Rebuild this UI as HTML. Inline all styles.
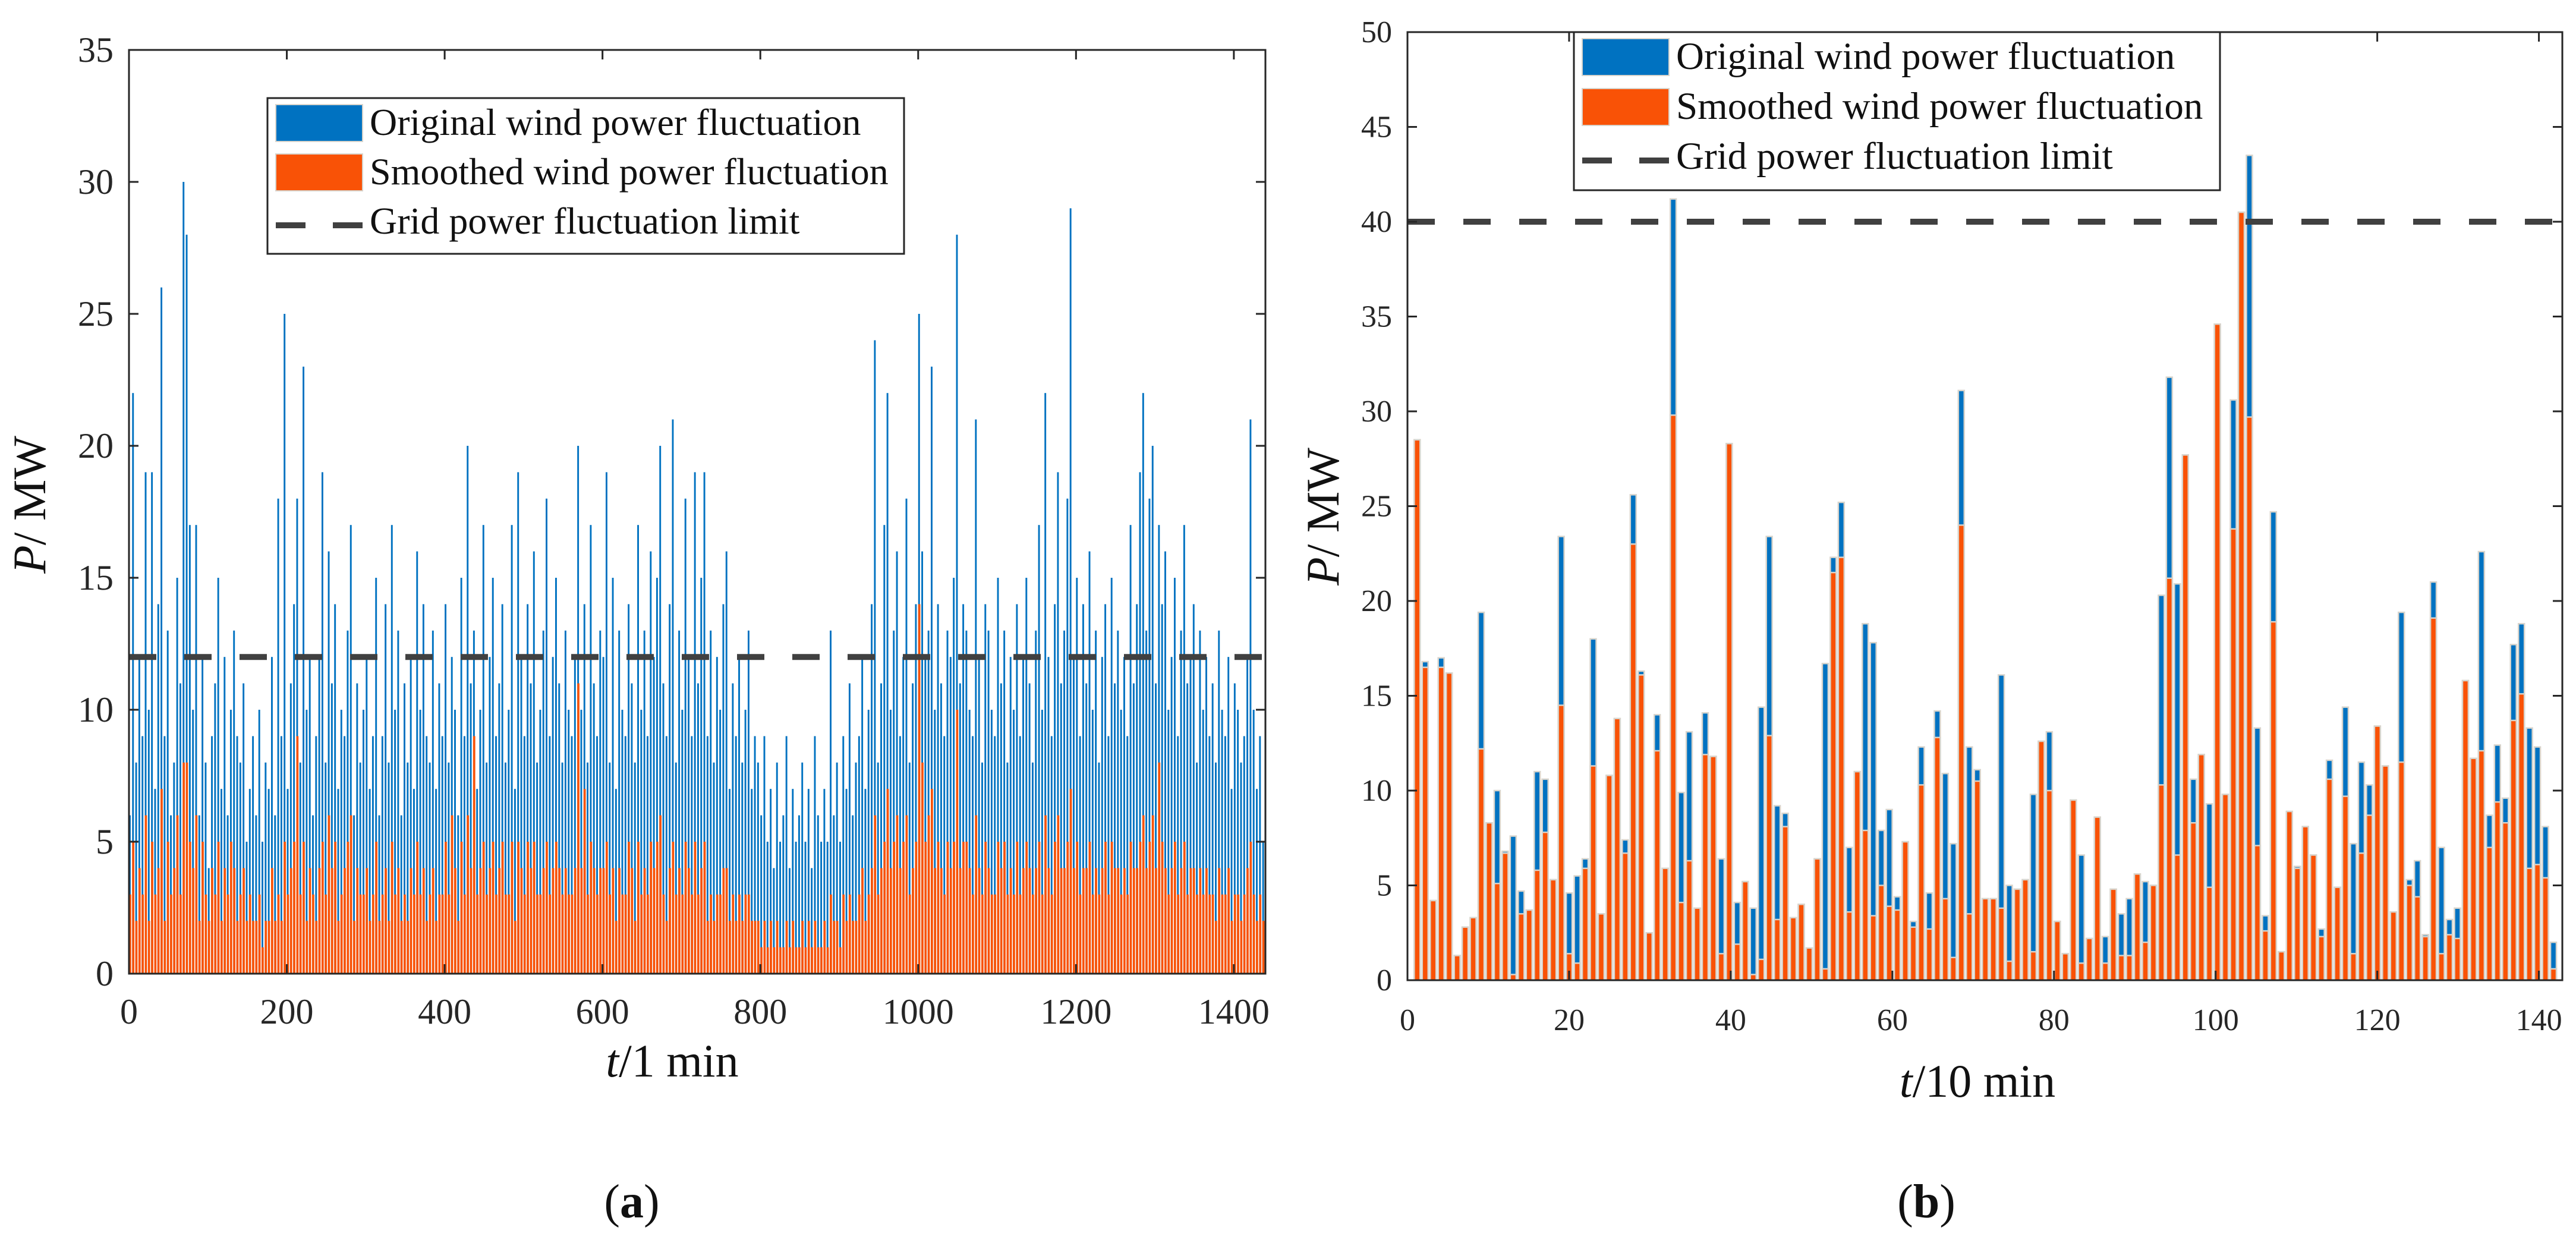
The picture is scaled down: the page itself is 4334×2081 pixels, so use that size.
<!DOCTYPE html>
<html><head><meta charset="utf-8"><style>
html,body{margin:0;padding:0;background:#fff;}
svg{display:block;font-family:"Liberation Serif",serif;}
</style></head><body>
<svg id="fig" width="4334" height="2081" viewBox="0 0 4334 2081" xmlns="http://www.w3.org/2000/svg">
<g id="chartA"></g>
<g id="chartB"></g>
</svg>
<script>
// ---------- Chart (a) data: 4-minute resolution, minutes 0..1440 ----------
const aOriginal = [
6,22,8,12,9,19,10,19,7,14,26,9,13,6,8,15,11,30,28,17,
10,17,6,12,8,4,9,11,15,7,12,6,10,13,9,8,11,5,7,9,
6,10,5,8,7,12,6,18,9,25,7,11,14,18,8,23,10,12,6,9,
12,19,8,16,11,14,7,10,9,13,17,6,11,8,10,12,7,9,15,6,
9,14,8,17,10,13,6,11,8,12,7,16,10,14,9,8,13,7,11,9,
14,8,12,10,6,15,9,20,11,13,7,10,17,8,12,15,9,11,14,8,
10,17,7,19,12,9,14,11,16,8,10,13,18,9,12,15,11,8,13,10,
9,12,20,10,14,8,17,11,9,13,12,19,8,15,7,13,10,9,14,11,
8,17,10,13,9,16,12,15,20,11,9,14,21,8,13,10,18,12,9,19,
11,15,19,9,13,8,12,10,14,16,7,11,9,12,8,10,13,7,9,8,
6,9,5,7,4,8,5,6,9,4,7,5,6,8,5,7,4,9,6,5,
7,5,13,6,8,5,9,7,11,6,8,9,12,7,10,14,24,8,11,17,
22,10,13,16,9,12,18,8,11,14,25,16,12,13,23,10,14,11,9,13,
12,15,28,11,14,13,10,9,21,12,8,14,13,10,9,15,11,13,8,12,
10,14,9,12,15,11,8,13,17,10,22,12,9,14,19,11,13,18,29,12,
15,9,14,11,16,10,13,8,12,14,9,15,11,13,10,12,9,17,11,14,
19,22,13,18,20,11,17,14,16,10,12,15,9,13,17,11,12,14,8,13,
10,12,9,11,8,13,10,9,12,7,11,10,8,9,12,21,10,7,9,5];
const aSmoothed = [
3,5,2,4,3,6,2,5,3,4,7,2,5,3,4,6,3,8,8,5,
4,6,2,5,3,2,4,3,5,2,4,3,5,4,2,3,4,2,3,2,
2,3,1,2,2,4,2,3,2,5,3,4,5,9,3,5,2,4,3,2,
4,5,3,6,4,5,2,3,4,5,6,2,4,3,3,4,2,3,5,2,
3,4,2,5,3,4,2,3,2,4,3,5,3,4,2,3,4,2,3,3,
5,3,6,4,2,5,3,6,4,9,3,4,5,3,4,5,3,4,5,3,
3,5,2,5,4,3,5,4,5,3,3,4,5,3,4,5,4,3,4,3,
3,4,11,4,7,3,5,4,3,4,4,5,3,4,2,4,3,3,5,4,
2,5,3,4,3,5,4,5,6,3,2,4,5,3,4,3,5,4,3,5,
3,4,5,2,3,2,3,3,4,4,2,3,2,3,2,3,3,2,2,2,
1,2,1,2,1,2,1,1,2,1,2,1,1,2,1,2,1,2,1,1,
2,1,3,2,2,1,3,2,3,2,2,3,4,2,3,4,6,3,4,5,
7,4,5,6,4,5,6,3,4,5,14,8,5,6,7,4,5,4,3,5,
4,5,10,4,5,5,4,3,6,4,3,5,4,3,3,5,4,5,3,4,
3,5,3,4,5,4,3,4,5,3,6,4,3,5,6,4,4,5,7,4,
5,3,4,4,5,3,4,3,4,5,3,5,4,4,3,4,3,5,4,4,
5,6,4,5,6,4,8,5,4,3,4,5,3,4,5,3,4,4,3,4,
3,4,3,3,2,4,3,3,4,2,3,3,2,3,4,5,3,2,3,2];
const aXTicks = [0,200,400,600,800,1000,1200,1400];
const aYTicks = [0,5,10,15,20,25,30,35];
const aLimit = [12];

// ---------- Chart (b) data: 10-minute resolution ----------
const bOriginal = [28.5,16.8,4.2,17,16.2,1.3,2.8,3.3,19.4,8.3,10,6.8,7.6,4.7,3.7,11,10.6,5.3,23.4,4.6,
5.5,6.4,18,3.5,10.8,13.8,7.4,25.6,16.3,2.5,14,5.9,41.2,9.9,13.1,3.8,14.1,11.8,6.4,28.3,
4.1,5.2,3.8,14.4,23.4,9.2,8.8,3.3,4.0,1.7,6.4,16.7,22.3,25.2,7,11,18.8,17.8,7.9,9,
4.4,7.3,3.1,12.3,4.6,14.2,10.9,7.2,31.1,12.3,11.1,4.3,4.3,16.1,5,4.8,5.3,9.8,12.6,13.1,
3.1,1.4,9.5,6.6,2.2,8.6,2.3,4.8,3.5,4.3,5.6,5.2,5,20.3,31.8,20.9,27.7,10.6,11.9,9.3,
34.6,9.8,30.6,40.5,43.5,13.3,3.4,24.7,1.5,8.9,6,8.1,6.6,2.7,11.6,4.9,14.4,7.2,11.5,10.3,
13.4,11.3,3.6,19.4,5.3,6.3,2.4,21,7,3.2,3.8,15.8,11.7,22.6,8.7,12.4,9.6,17.7,18.8,13.3,
12.3,8.1,2];
const bSmoothed = [28.5,16.5,4.2,16.5,16.2,1.3,2.8,3.3,12.2,8.3,5.1,6.7,0.3,3.5,3.7,5.8,7.8,5.3,14.5,1.4,
0.9,5.9,11.3,3.5,10.8,13.8,6.7,23,16.1,2.5,12.1,5.9,29.8,4.1,6.3,3.8,11.9,11.8,1.4,28.3,
1.9,5.2,0.3,1.1,12.9,3.2,8.1,3.3,4.0,1.7,6.4,0.6,21.5,22.3,3.6,11,7.9,3.4,5,3.9,
3.7,7.3,2.8,10.3,2.7,12.8,4.3,1.2,24,3.5,10.5,4.3,4.3,3.8,1,4.8,5.3,1.5,12.6,10,
3.1,1.4,9.5,0.9,2.2,8.6,0.9,4.8,1.3,1.3,5.6,2,5,10.3,21.2,6.6,27.7,8.3,11.9,4.9,
34.6,9.8,23.8,40.5,29.7,7.1,2.6,18.9,1.5,8.9,5.9,8.1,6.6,2.3,10.6,4.9,9.7,1.4,6.7,8.7,
13.4,11.3,3.6,11.5,5,4.4,2.3,19.1,1.4,2.4,2.2,15.8,11.7,12.1,7,9.4,8.3,13.7,15.1,5.9,
6.1,5.4,0.6];
const bXTicks = [0,20,40,60,80,100,120,140];
const bYTicks = [0,5,10,15,20,25,30,35,40,45,50];
const bLimit = [40];

const NS = "http://www.w3.org/2000/svg";
const BLUE = "#0072c1", ORANGE = "#f95206", DARK = "#404040";
function mk(parent, tag, attrs, text) {
  const e = document.createElementNS(NS, tag);
  for (const k in attrs) e.setAttribute(k, attrs[k]);
  if (text !== undefined) e.textContent = text;
  parent.appendChild(e);
  return e;
}

function drawAxes(g, L, R, T, B, xs, ys, xTicks, yTicks, tickFont, prefix) {
  for (const v of xTicks) {
    const x = xs(v);
    const t1 = mk(g, "line", {x1:x, y1:B, x2:x, y2:B-16, stroke:"#262626", "stroke-width":3});
    
    
    const t2 = mk(g, "line", {x1:x, y1:T, x2:x, y2:T+16, stroke:"#262626", "stroke-width":3});
    
    
    const lb = mk(g, "text", {x:x, y:B+84, "text-anchor":"middle", "font-size":tickFont, fill:"#262626"}, String(v));
    
    
  }
  for (const v of yTicks) {
    const y = ys(v);
    const t1 = mk(g, "line", {x1:L, y1:y, x2:L+16, y2:y, stroke:"#262626", "stroke-width":3});
    
    
    const t2 = mk(g, "line", {x1:R, y1:y, x2:R-16, y2:y, stroke:"#262626", "stroke-width":3});
    
    
    const lb = mk(g, "text", {x:L-26, y:y+tickFont*0.33, "text-anchor":"end", "font-size":tickFont, fill:"#262626"}, String(v));
    
    
  }
  const fr = mk(g, "rect", {x:L, y:T, width:R-L, height:B-T, fill:"none", stroke:"#262626", "stroke-width":3});
  
  
}

function drawLegend(g, x, y, w, h, rowGap, font, prefix) {
  const box = mk(g, "rect", {x:x, y:y, width:w, height:h, fill:"#fff", stroke:"#262626", "stroke-width":3});
  
  
  const labels = ["Original wind power fluctuation", "Smoothed wind power fluctuation", "Grid power fluctuation limit"];
  const sx = x + 14, sw = 146, tx = x + 172;
  for (let i = 0; i < 3; i++) {
    const cy = y + 42 + i * rowGap;
    if (i < 2) {
      const sq = mk(g, "rect", {x:sx, y:cy-31, width:sw, height:62, fill: i === 0 ? BLUE : ORANGE, stroke:"#d8d4cc", "stroke-width":2});
      
      
    } else {
      const ln = mk(g, "line", {x1:sx, y1:cy+6, x2:sx+sw, y2:cy+6, stroke:DARK, "stroke-width":10, "stroke-dasharray":"50 46"});
      
      
    }
    const t = mk(g, "text", {x:tx, y:cy+20, "font-size":font, fill:"#111"}, labels[i]);
    
    
  }
}

// ---------------- Chart (a) ----------------
(function(){
  const g = document.getElementById("chartA");
  const L = 217, R = 2129, T = 84, B = 1638;
  const xMax = 1440, yMax = 35;
  const xs = v => L + v / xMax * (R - L);
  const ys = v => B - v / yMax * (B - T);
  const step = xMax / aOriginal.length;
  const bars = mk(g, "g", {});
  
  
  for (let i = 0; i < aOriginal.length; i++) {
    const x0 = xs(i * step), x1 = xs((i + 1) * step);
    const r = mk(bars, "rect", {x:x0, y:ys(aOriginal[i]), width:(x1-x0)*0.55, height:B-ys(aOriginal[i]), fill:BLUE});
    
    
  }
  for (let i = 0; i < aSmoothed.length; i++) {
    const x0 = xs(i * step), x1 = xs((i + 1) * step);
    const r = mk(bars, "rect", {x:x0, y:ys(aSmoothed[i]), width:(x1-x0)*0.7, height:B-ys(aSmoothed[i]), fill:ORANGE});
    
    
  }
  const lim = mk(g, "line", {x1:L, y1:ys(aLimit[0]), x2:R, y2:ys(aLimit[0]), stroke:DARK, "stroke-width":10, "stroke-dasharray":"46 47"});
  
  
  drawAxes(g, L, R, T, B, xs, ys, aXTicks, aYTicks, 60, 'chart-a');
  drawLegend(g, 450, 165, 1071, 262, 83, 64, 'chart-a');
  const xt = mk(g, "text", {x:1131, y:1811, "text-anchor":"middle", "font-size":78, fill:"#111"});
  
  
  mk(xt, "tspan", {"font-style":"italic"}, "t");
  mk(xt, "tspan", {}, "/1 min");
  const yt = mk(g, "text", {x:0, y:0, "text-anchor":"middle", "font-size":78, fill:"#111", transform:"translate(76,849) rotate(-90)"});
  
  
  mk(yt, "tspan", {"font-style":"italic"}, "P");
  mk(yt, "tspan", {}, "/ MW");
  const cap = mk(g, "text", {x:1063, y:2048, "text-anchor":"middle", "font-size":80, fill:"#111"});
  
  
  mk(cap, "tspan", {}, "(");
  mk(cap, "tspan", {"font-weight":"bold"}, "a");
  mk(cap, "tspan", {}, ")");
})();

// ---------------- Chart (b) ----------------
(function(){
  const g = document.getElementById("chartB");
  const L = 2368, R = 4311, T = 54, B = 1649;
  const xMax = 142.9, yMax = 50;
  const xs = v => L + v / xMax * (R - L);
  const ys = v => B - v / yMax * (B - T);
  const n = bOriginal.length;
  const bars = mk(g, "g", {});
  
  
  const pitch = 140.6 / (n - 1);
  const bw = (xs(pitch) - xs(0)) * 0.74;
  for (let i = 0; i < n; i++) {
    const cx = xs(1.2 + i * pitch);
    const r = mk(bars, "rect", {x:cx-bw/2, y:ys(bOriginal[i]), width:bw, height:B-ys(bOriginal[i]), fill:BLUE, stroke:"#d8d4cc", "stroke-width":2.5});
    
    
    const s = mk(bars, "rect", {x:cx-bw/2, y:ys(bSmoothed[i]), width:bw, height:B-ys(bSmoothed[i]), fill:ORANGE, stroke:"#d8d4cc", "stroke-width":2.5});
    
    
  }
  const lim = mk(g, "line", {x1:L, y1:ys(bLimit[0]), x2:R, y2:ys(bLimit[0]), stroke:DARK, "stroke-width":10, "stroke-dasharray":"46 48"});
  
  
  drawAxes(g, L, R, T, B, xs, ys, bXTicks, bYTicks, 52, 'chart-b');
  drawLegend(g, 2648, 54, 1087, 266, 84, 65, 'chart-b');
  const xt = mk(g, "text", {x:3327, y:1845, "text-anchor":"middle", "font-size":78, fill:"#111"});
  
  
  mk(xt, "tspan", {"font-style":"italic"}, "t");
  mk(xt, "tspan", {}, "/10 min");
  const yt = mk(g, "text", {x:0, y:0, "text-anchor":"middle", "font-size":78, fill:"#111", transform:"translate(2252,869) rotate(-90)"});
  
  
  mk(yt, "tspan", {"font-style":"italic"}, "P");
  mk(yt, "tspan", {}, "/ MW");
  const cap = mk(g, "text", {x:3241, y:2048, "text-anchor":"middle", "font-size":80, fill:"#111"});
  
  
  mk(cap, "tspan", {}, "(");
  mk(cap, "tspan", {"font-weight":"bold"}, "b");
  mk(cap, "tspan", {}, ")");
})();
</script>
</body></html>
